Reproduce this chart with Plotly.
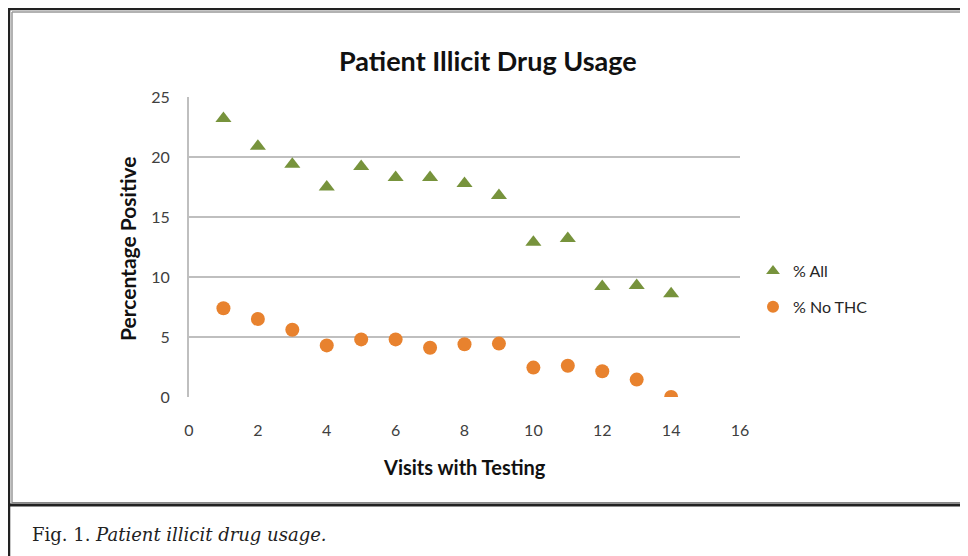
import plotly.graph_objects as go

# ---- data ----
visits = [1, 2, 3, 4, 5, 6, 7, 8, 9, 10, 11, 12, 13, 14]
pct_all = [23.2, 20.9, 19.4, 17.5, 19.2, 18.3, 18.3, 17.8, 16.8, 12.9, 13.2, 9.2, 9.3, 8.6]
pct_no_thc = [7.4, 6.5, 5.6, 4.3, 4.8, 4.8, 4.1, 4.4, 4.45, 2.45, 2.6, 2.15, 1.45, 0.0]
series_names = ["% All", "% No THC"]
chart_title = "Patient Illicit Drug Usage"
x_title = "Visits with Testing"
y_title = "Percentage Positive"

W, H = 968, 556
OFF = 8  # page body margin
PX_L, PX_R, PX_T, PX_B = 189, 740, 97, 397  # plot area in screen pixels


def px(x):
    return (x - OFF) / W


def py(y):
    return 1 - (y - OFF) / H


GREEN = "#77933C"
ORANGE = "#E8822E"
FONT = "Lato, 'Open Sans', sans-serif"

fig = go.Figure()
fig.add_trace(go.Scatter(
    x=visits, y=pct_all, mode="markers", name=series_names[0], legendgroup="a",
    marker=dict(symbol="triangle-up", size=14, color=GREEN, line=dict(width=0)),
))
fig.add_trace(go.Scatter(
    x=visits, y=pct_no_thc, mode="markers", name=series_names[1], legendgroup="b",
    marker=dict(symbol="circle", size=14, color=ORANGE, line=dict(width=0)),
))

fig.update_layout(
    width=W, height=H,
    margin=dict(l=0, r=0, t=0, b=0, autoexpand=False),
    paper_bgcolor="white", plot_bgcolor="white",
    font=dict(family=FONT, color="#404040", size=16),
    showlegend=True,
    legend=dict(x=px(753), y=py(254), xanchor="left", yanchor="top",
                font=dict(family=FONT, size=16, color="#262626"),
                tracegroupgap=12, itemsizing="constant", bgcolor="rgba(0,0,0,0)"),
    xaxis=dict(domain=[px(PX_L), px(PX_R)], range=[0, 16], dtick=2, tick0=0,
               showgrid=False, zeroline=False, showline=False, automargin=False,
               ticks="", ticklabelstandoff=22, tickfont=dict(size=16, color="#404040")),
    yaxis=dict(domain=[py(PX_B), py(PX_T)], range=[0, 25], dtick=5, tick0=0,
               showgrid=True, gridcolor="#BFBFBF", gridwidth=2,
               zeroline=False, showline=True, linecolor="#BFBFBF", linewidth=2,
               automargin=False, ticks="", ticklabelstandoff=14,
               tickfont=dict(size=16, color="#404040")),
)

ann = dict(xref="paper", yref="paper", showarrow=False)
# chart title
fig.add_annotation(text="<b>" + chart_title + "</b>", x=px(488), y=py(61),
                   xanchor="center", yanchor="middle",
                   font=dict(family=FONT, size=27, color="#111111"), **ann)
# axis titles
fig.add_annotation(text="<b>" + x_title + "</b>", x=px(464), y=py(467),
                   xanchor="center", yanchor="middle",
                   font=dict(family=FONT, size=20, color="#111111"), **ann)
fig.add_annotation(text="<b>" + y_title + "</b>", x=px(128), y=py(249), textangle=-90,
                   xanchor="center", yanchor="middle",
                   font=dict(family=FONT, size=21, color="#111111"), **ann)
# caption
fig.add_annotation(text="Fig. 1. <i>Patient illicit drug usage.</i>", x=px(30), y=py(534),
                   xanchor="left", yanchor="middle",
                   font=dict(family="'DejaVu Serif', serif", size=18, color="#222222"), **ann)

# frame lines
shapes = [
    dict(type="line", x0=0, x1=1, y0=py(9), y1=py(9), line=dict(color="#222222", width=2.5)),
    dict(type="line", x0=px(12), x1=1, y0=py(12), y1=py(12), line=dict(color="#999999", width=1.5)),
    dict(type="line", x0=px(9), x1=px(9), y0=0, y1=1, line=dict(color="#222222", width=2.5)),
    dict(type="line", x0=px(12), x1=px(12), y0=py(503), y1=py(12), line=dict(color="#999999", width=1.5)),
    dict(type="line", x0=px(9), x1=1, y0=py(505), y1=py(505), line=dict(color="#222222", width=3)),
    dict(type="line", x0=px(12), x1=1, y0=py(502.5), y1=py(502.5), line=dict(color="#888888", width=1)),
]
for s in shapes:
    s.update(xref="paper", yref="paper")
fig.update_layout(shapes=shapes)

fig.write_html("out.html")
